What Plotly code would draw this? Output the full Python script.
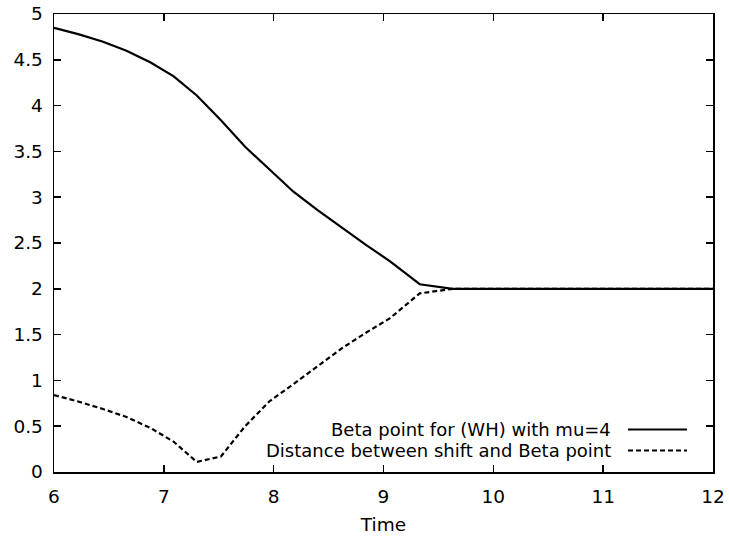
import plotly.graph_objects as go

# Data
time = [6.0, 6.22, 6.44, 6.66, 6.88, 7.09, 7.30, 7.52, 7.74, 7.96, 8.18,
        8.40, 8.62, 8.84, 9.06, 9.33, 9.63, 12.0]
beta_point = [4.85, 4.78, 4.70, 4.60, 4.47, 4.32, 4.11, 3.84, 3.55, 3.30, 3.06,
              2.86, 2.67, 2.48, 2.30, 2.05, 2.00, 2.00]
distance = [0.84, 0.77, 0.69, 0.60, 0.48, 0.33, 0.11, 0.17, 0.50, 0.77, 0.96,
            1.16, 1.35, 1.52, 1.68, 1.95, 2.00, 2.00]

series_names = ["Beta point for (WH) with mu=4",
                "Distance between shift and Beta point"]
x_ticks = [6, 7, 8, 9, 10, 11, 12]
y_ticks = [0, 0.5, 1, 1.5, 2, 2.5, 3, 3.5, 4, 4.5, 5]
y_tick_labels = ["0", "0.5", "1", "1.5", "2", "2.5", "3", "3.5", "4", "4.5", "5"]

FONT = "DejaVu Sans"
FS = 18.5
KEY_FS = 18

fig = go.Figure()
fig.add_trace(go.Scatter(x=time, y=beta_point, mode="lines", name=series_names[0],
                         line=dict(color="black", width=2.2), showlegend=False))
fig.add_trace(go.Scatter(x=time, y=distance, mode="lines", name=series_names[1],
                         line=dict(color="black", width=2.2, dash="5px,3px"),
                         showlegend=False))

# gnuplot-style key: text right-aligned, line sample to the right
key_rows = [(series_names[0], 0.0928, "solid"), (series_names[1], 0.0469, "5px,3px")]
for name, yp, dash in key_rows:
    fig.add_annotation(x=0.848, y=yp, xref="paper", yref="paper", text=name,
                       showarrow=False, xanchor="right", yanchor="middle",
                       font=dict(family=FONT, size=KEY_FS, color="black"))
    fig.add_shape(type="line", xref="paper", yref="paper", x0=0.871, x1=0.9605,
                  y0=yp, y1=yp, line=dict(color="black", width=2.2, dash=dash))

axis_common = dict(showline=True, linecolor="black", linewidth=1.5, mirror="ticks",
                   ticks="inside", ticklen=7, tickwidth=1.5, tickcolor="black",
                   showgrid=False, zeroline=False, ticklabeloverflow="allow",
                   tickfont=dict(family=FONT, size=FS, color="black"))

fig.update_xaxes(range=[6, 12], tickvals=x_ticks, ticktext=[str(v) for v in x_ticks],
                 title=dict(text="Time", font=dict(family=FONT, size=FS, color="black"),
                            standoff=12),
                 ticklabelstandoff=7, **axis_common)
fig.update_yaxes(range=[0, 5], tickvals=y_ticks, ticktext=y_tick_labels,
                 ticklabelstandoff=6, **axis_common)

fig.update_layout(width=729, height=538, plot_bgcolor="white", paper_bgcolor="white",
                  margin=dict(l=54, r=16, t=14, b=66, autoexpand=False),
                  font=dict(family=FONT, size=FS, color="black"))

fig.write_html("out.html",
               config={"displayModeBar": False, "staticPlot": True},
               post_script="document.body.style.margin='0px';"
                           "document.body.style.overflow='hidden';")
